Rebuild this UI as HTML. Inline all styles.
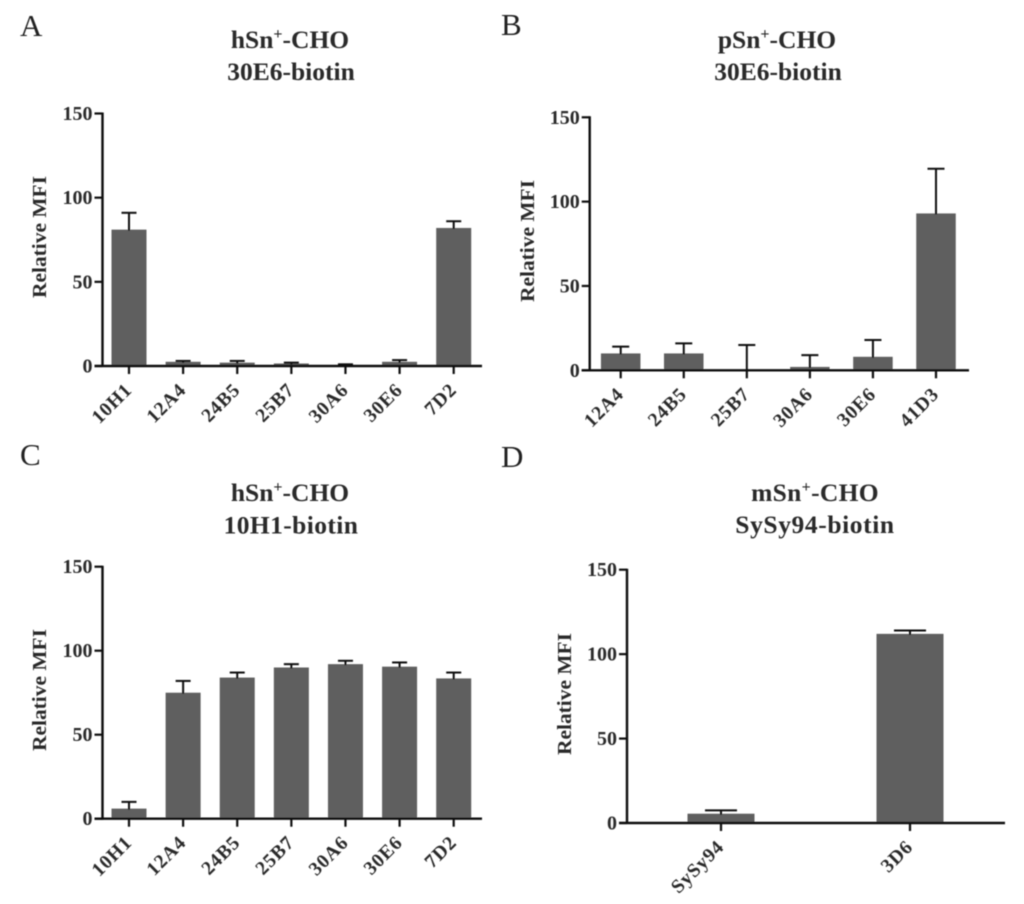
<!DOCTYPE html>
<html lang="en">
<head>
<meta charset="utf-8">
<title>Relative MFI bar charts</title>
<style>
html,body{margin:0;padding:0;background:#fff;width:1024px;height:904px;overflow:hidden}
svg{display:block;position:absolute;left:0;top:0}
text{font-family:"Liberation Serif",serif;fill:#2b2b2b}
.title{font-size:25.5px;font-weight:bold;text-anchor:middle}
.letter{font-size:31px;fill:#222}
.ytitle{font-size:20px;font-weight:bold;text-anchor:middle}
.ytick{font-size:20px;font-weight:bold;text-anchor:end}
.xtick{font-size:19.5px;font-weight:bold;text-anchor:end;letter-spacing:0.8px}
</style>
</head>
<body>
<svg id="figure" width="1024" height="904" viewBox="0 0 1024 904" xmlns="http://www.w3.org/2000/svg">
  <defs><filter id="soft" x="-5%" y="-5%" width="110%" height="110%"><feGaussianBlur stdDeviation="0.45"/></filter></defs>
  <g id="root" filter="url(#soft)">
    <text class="letter" x="20" y="36">A</text>
    <text class="letter" x="501" y="35">B</text>
    <text class="letter" x="20" y="465">C</text>
    <text class="letter" x="501" y="467">D</text>

    <text class="title" x="290" y="48">hSn<tspan dy="-9" font-size="16">+</tspan><tspan dy="9">-CHO</tspan></text>
    <text class="title" x="291" y="80">30E6-biotin</text>
    <text class="title" x="777" y="48">pSn<tspan dy="-9" font-size="16">+</tspan><tspan dy="9">-CHO</tspan></text>
    <text class="title" x="778" y="80">30E6-biotin</text>
    <text class="title" x="290" y="501">hSn<tspan dy="-9" font-size="16">+</tspan><tspan dy="9">-CHO</tspan></text>
    <text class="title" x="291" y="533.5" letter-spacing="0.4">10H1-biotin</text>
    <text class="title" x="815" y="501" letter-spacing="0.3">mSn<tspan dy="-9" font-size="16">+</tspan><tspan dy="9">-CHO</tspan></text>
    <text class="title" x="815" y="533" letter-spacing="0.6">SySy94-biotin</text>
  </g>
</svg>
<script>
// Chart data
const yTickValues = [0, 50, 100, 150];

const categoriesA = ['10H1', '12A4', '24B5', '25B7', '30A6', '30E6', '7D2'];
const meansA = [81, 2.5, 2, 1.5, 0, 2.5, 82];
const errorTopsA = [91, 3, 3, 2, 1, 3.5, 86];

const categoriesB = ['12A4', '24B5', '25B7', '30A6', '30E6', '41D3'];
const meansB = [10, 10, 0, 2, 8, 93];
const errorTopsB = [14, 16, 15, 9, 18, 119.5];

const categoriesC = ['10H1', '12A4', '24B5', '25B7', '30A6', '30E6', '7D2'];
const meansC = [6, 75, 84, 90, 92, 90.5, 83.5];
const errorTopsC = [10, 82, 87, 92, 94, 93, 87];

const categoriesD = ['SySy94', '3D6'];
const meansD = [5.5, 112];
const errorTopsD = [7.5, 114];

const NS = 'http://www.w3.org/2000/svg';
const root = document.getElementById('root');

function shape(parent, tag, attrs) {
  const el = document.createElementNS(NS, tag);
  for (const k in attrs) el.setAttribute(k, attrs[k]);
  parent.appendChild(el);
  return el;
}

function drawPanel(p, categories, means, errorTops) {
  const g = shape(root, 'g', {});
  
  

  const yScale = v => p.zeroY + (p.topY - p.zeroY) * v / 150;
  const xScale = i => p.firstX + (p.lastX - p.firstX) * (categories.length > 1 ? i / (categories.length - 1) : 0);

  categories.forEach((cat, i) => {
    const cx = xScale(i), top = yScale(means[i]), et = yScale(errorTops[i]);

    const bar = shape(g, 'rect', {x: cx - p.barW / 2, y: top, width: p.barW, height: Math.max(0, p.zeroY - top), fill: '#5e5e5e'});
    
    

    const stem = shape(g, 'line', {x1: cx, x2: cx, y1: top + 1, y2: et, stroke: '#111', 'stroke-width': 2});
    
    

    const cap = shape(g, 'line', {x1: cx - p.capW / 2, x2: cx + p.capW / 2, y1: et, y2: et, stroke: '#111', 'stroke-width': 2});
    
    

    const tick = shape(g, 'line', {x1: cx, x2: cx, y1: p.zeroY, y2: p.zeroY + 8, stroke: '#111', 'stroke-width': 2.2});
    
    

    const lx = cx + 4, ly = p.zeroY + 25;
    const label = shape(g, 'text', {class: 'xtick', x: lx, y: ly, transform: 'rotate(-45 ' + lx + ' ' + ly + ')'});
    label.textContent = cat;
    
    
  });

  const yAxis = shape(g, 'line', {x1: p.axisX, x2: p.axisX, y1: p.topY - 1, y2: p.zeroY + 1, stroke: '#111', 'stroke-width': 2.4});
  
  

  const xAxis = shape(g, 'line', {x1: p.axisX - 8, x2: p.rightX, y1: p.zeroY, y2: p.zeroY, stroke: '#111', 'stroke-width': 2.4});
  
  

  yTickValues.forEach(v => {
    const y = yScale(v);
    const tick = shape(g, 'line', {x1: p.axisX - 8, x2: p.axisX, y1: y, y2: y, stroke: '#111', 'stroke-width': 2.2});
    
    

    const label = shape(g, 'text', {class: 'ytick', x: p.axisX - 10, y: y + 6.5});
    label.textContent = String(v);
    
    
  });

  const yTitle = shape(g, 'text', {class: 'ytitle', x: 0, y: 0, textLength: 122, lengthAdjust: 'spacingAndGlyphs',
    transform: 'translate(' + p.titleX + ' ' + p.titleY + ') rotate(-90)'});
  yTitle.textContent = 'Relative MFI';
  
  
}

drawPanel({id: 'a', axisX: 102.5, topY: 113.5, zeroY: 366, rightX: 482, firstX: 129, lastX: 453.7, barW: 35, capW: 15, titleX: 46, titleY: 237}, categoriesA, meansA, errorTopsA);
drawPanel({id: 'b', axisX: 589.7, topY: 117.3, zeroY: 370.3, rightX: 969, firstX: 620.7, lastX: 936, barW: 39.5, capW: 17, titleX: 534, titleY: 241}, categoriesB, meansB, errorTopsB);
drawPanel({id: 'c', axisX: 102.5, topY: 566.7, zeroY: 818.7, rightX: 482, firstX: 129, lastX: 453.7, barW: 35, capW: 15, titleX: 46, titleY: 690}, categoriesC, meansC, errorTopsC);
drawPanel({id: 'd', axisX: 627, topY: 569.7, zeroY: 823, rightX: 1005, firstX: 721, lastX: 910, barW: 67, capW: 32, titleX: 571, titleY: 694}, categoriesD, meansD, errorTopsD);
</script>
</body>
</html>
